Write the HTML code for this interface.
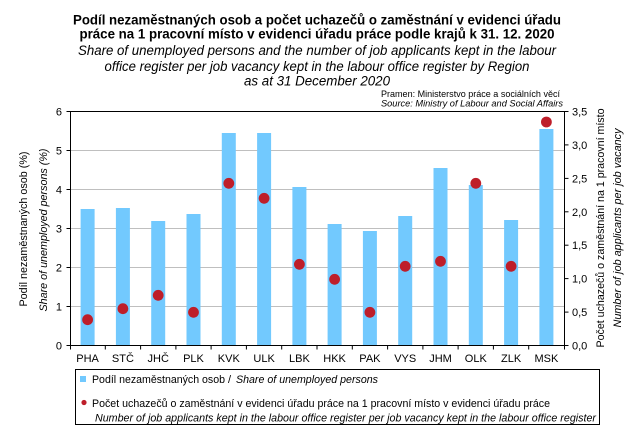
<!DOCTYPE html>
<html>
<head>
<meta charset="utf-8">
<style>
html,body{margin:0;padding:0;background:#fff;}
svg{display:block;}
text{font-family:"Liberation Sans",Arial,sans-serif;fill:#000;}
</style>
</head>
<body>
<svg width="643" height="428" viewBox="0 0 643 428" xmlns="http://www.w3.org/2000/svg">
<rect width="643" height="428" fill="#fff"/>

<!-- Title -->
<text x="317" y="24.5" font-size="13.5" font-weight="bold" text-anchor="middle" textLength="488" lengthAdjust="spacingAndGlyphs">Podíl nezaměstnaných osob  a počet uchazečů o zaměstnání v evidenci úřadu</text>
<text x="317" y="38.5" font-size="13.5" font-weight="bold" text-anchor="middle" textLength="475" lengthAdjust="spacingAndGlyphs">práce na 1 pracovní místo v evidenci úřadu práce podle krajů k 31. 12. 2020</text>
<text x="317" y="55" font-size="13.5" font-style="italic" text-anchor="middle" textLength="478" lengthAdjust="spacingAndGlyphs">Share of unemployed  persons  and the number of job applicants  kept in the labour</text>
<text x="317" y="71" font-size="13.5" font-style="italic" text-anchor="middle" textLength="425" lengthAdjust="spacingAndGlyphs">office register per job vacancy  kept in the labour office register  by Region</text>
<text x="317" y="85.5" font-size="13.5" font-style="italic" text-anchor="middle" textLength="146" lengthAdjust="spacingAndGlyphs">as at 31 December 2020</text>

<!-- Source -->
<text x="381" y="97" font-size="9.5" textLength="179" lengthAdjust="spacingAndGlyphs">Pramen: Ministerstvo práce a sociálních věcí</text>
<text x="381" y="106.5" font-size="9.5" font-style="italic" textLength="182" lengthAdjust="spacingAndGlyphs">Source: Ministry of Labour and Social Affairs</text>

<!-- Gridlines -->
<g stroke="#bfbfbf" stroke-width="1">
<line x1="70" y1="150.5" x2="564" y2="150.5"/>
<line x1="70" y1="189.5" x2="564" y2="189.5"/>
<line x1="70" y1="228.5" x2="564" y2="228.5"/>
<line x1="70" y1="267.5" x2="564" y2="267.5"/>
<line x1="70" y1="306.5" x2="564" y2="306.5"/>
</g>

<!-- Bars -->
<g fill="#72c9fe">
<rect x="80.6" y="209" width="14" height="136"/>
<rect x="115.9" y="208" width="14" height="137"/>
<rect x="151.2" y="221" width="14" height="124"/>
<rect x="186.5" y="214" width="14" height="131"/>
<rect x="221.8" y="133" width="14" height="212"/>
<rect x="257.1" y="133" width="14" height="212"/>
<rect x="292.4" y="187" width="14" height="158"/>
<rect x="327.6" y="224" width="14" height="121"/>
<rect x="362.9" y="231" width="14" height="114"/>
<rect x="398.2" y="216" width="14" height="129"/>
<rect x="433.5" y="168" width="14" height="177"/>
<rect x="468.8" y="185" width="14" height="160"/>
<rect x="504.1" y="220" width="14" height="125"/>
<rect x="539.4" y="129" width="14" height="216"/>
</g>

<!-- Dots -->
<g fill="#be1e2a">
<circle cx="87.6" cy="319.7" r="5.4"/>
<circle cx="122.9" cy="308.7" r="5.4"/>
<circle cx="158.2" cy="295.3" r="5.4"/>
<circle cx="193.5" cy="312.3" r="5.4"/>
<circle cx="228.8" cy="183.3" r="5.4"/>
<circle cx="264.1" cy="198.3" r="5.4"/>
<circle cx="299.4" cy="264.3" r="5.4"/>
<circle cx="334.6" cy="279.3" r="5.4"/>
<circle cx="369.9" cy="312.3" r="5.4"/>
<circle cx="405.2" cy="266.3" r="5.4"/>
<circle cx="440.5" cy="261.3" r="5.4"/>
<circle cx="475.8" cy="183.3" r="5.4"/>
<circle cx="511.1" cy="266.3" r="5.4"/>
<circle cx="546.4" cy="122" r="5.4"/>
</g>

<!-- Plot frame -->
<rect x="70.5" y="111.5" width="494" height="234" fill="none" stroke="#000" stroke-width="1"/>

<!-- Left ticks -->
<g stroke="#000" stroke-width="1">
<line x1="66.5" y1="111.5" x2="70.5" y2="111.5"/>
<line x1="66.5" y1="150.5" x2="70.5" y2="150.5"/>
<line x1="66.5" y1="189.5" x2="70.5" y2="189.5"/>
<line x1="66.5" y1="228.5" x2="70.5" y2="228.5"/>
<line x1="66.5" y1="267.5" x2="70.5" y2="267.5"/>
<line x1="66.5" y1="306.5" x2="70.5" y2="306.5"/>
<line x1="66.5" y1="345.5" x2="70.5" y2="345.5"/>
<!-- right ticks -->
<line x1="564.5" y1="111.5" x2="568.5" y2="111.5"/>
<line x1="564.5" y1="144.9" x2="568.5" y2="144.9"/>
<line x1="564.5" y1="178.4" x2="568.5" y2="178.4"/>
<line x1="564.5" y1="211.8" x2="568.5" y2="211.8"/>
<line x1="564.5" y1="245.2" x2="568.5" y2="245.2"/>
<line x1="564.5" y1="278.6" x2="568.5" y2="278.6"/>
<line x1="564.5" y1="312.1" x2="568.5" y2="312.1"/>
<line x1="564.5" y1="345.5" x2="568.5" y2="345.5"/>
<!-- bottom ticks -->
<line x1="70.5" y1="345.5" x2="70.5" y2="349.5"/>
<line x1="105.3" y1="345.5" x2="105.3" y2="349.5"/>
<line x1="140.6" y1="345.5" x2="140.6" y2="349.5"/>
<line x1="175.9" y1="345.5" x2="175.9" y2="349.5"/>
<line x1="211.1" y1="345.5" x2="211.1" y2="349.5"/>
<line x1="246.4" y1="345.5" x2="246.4" y2="349.5"/>
<line x1="281.7" y1="345.5" x2="281.7" y2="349.5"/>
<line x1="317" y1="345.5" x2="317" y2="349.5"/>
<line x1="352.3" y1="345.5" x2="352.3" y2="349.5"/>
<line x1="387.6" y1="345.5" x2="387.6" y2="349.5"/>
<line x1="422.9" y1="345.5" x2="422.9" y2="349.5"/>
<line x1="458.1" y1="345.5" x2="458.1" y2="349.5"/>
<line x1="493.4" y1="345.5" x2="493.4" y2="349.5"/>
<line x1="528.7" y1="345.5" x2="528.7" y2="349.5"/>
<line x1="564.5" y1="345.5" x2="564.5" y2="349.5"/>
</g>

<!-- Left tick labels -->
<g font-size="11" text-anchor="end">
<text x="62" y="115.5">6</text>
<text x="62" y="154.5">5</text>
<text x="62" y="193.5">4</text>
<text x="62" y="232.5">3</text>
<text x="62" y="271.5">2</text>
<text x="62" y="310.5">1</text>
<text x="62" y="349.5">0</text>
</g>

<!-- Right tick labels -->
<g font-size="11" text-anchor="start">
<text x="572" y="115.5">3,5</text>
<text x="572" y="148.9">3,0</text>
<text x="572" y="182.4">2,5</text>
<text x="572" y="215.8">2,0</text>
<text x="572" y="249.2">1,5</text>
<text x="572" y="282.6">1,0</text>
<text x="572" y="316.1">0,5</text>
<text x="572" y="349.5">0,0</text>
</g>

<!-- X labels -->
<g font-size="11" text-anchor="middle">
<text x="87.6" y="362">PHA</text>
<text x="122.9" y="362">STČ</text>
<text x="158.2" y="362">JHČ</text>
<text x="193.5" y="362">PLK</text>
<text x="228.8" y="362">KVK</text>
<text x="264.1" y="362">ULK</text>
<text x="299.4" y="362">LBK</text>
<text x="334.6" y="362">HKK</text>
<text x="369.9" y="362">PAK</text>
<text x="405.2" y="362">VYS</text>
<text x="440.5" y="362">JHM</text>
<text x="475.8" y="362">OLK</text>
<text x="511.1" y="362">ZLK</text>
<text x="546.4" y="362">MSK</text>
</g>

<!-- Axis titles -->
<text transform="translate(27,229) rotate(-90)" font-size="11" text-anchor="middle" textLength="155" lengthAdjust="spacingAndGlyphs">Podíl nezaměstnaných osob (%)</text>
<text transform="translate(47,230) rotate(-90)" font-size="11" font-style="italic" text-anchor="middle" textLength="163" lengthAdjust="spacingAndGlyphs">Share of unemployed persons (%)</text>
<text transform="translate(604,228) rotate(-90)" font-size="11" text-anchor="middle" textLength="239" lengthAdjust="spacingAndGlyphs">Počet uchazečů o zaměstnání na 1 pracovní místo</text>
<text transform="translate(621,228) rotate(-90)" font-size="11" font-style="italic" text-anchor="middle" textLength="199" lengthAdjust="spacingAndGlyphs">Number of job applicants per job vacancy</text>

<!-- Legend -->
<rect x="75.5" y="369.5" width="524" height="55" fill="#fff" stroke="#000" stroke-width="1"/>
<rect x="80" y="376" width="6" height="6" fill="#72c9fe"/>
<text x="92" y="383" font-size="11" textLength="133" lengthAdjust="spacingAndGlyphs">Podíl nezaměstnaných osob</text>
<text x="228" y="383" font-size="11">/</text>
<text x="236" y="383" font-size="11" font-style="italic" textLength="142" lengthAdjust="spacingAndGlyphs">Share of unemployed persons</text>
<circle cx="84" cy="402.5" r="2.6" fill="#be1e2a"/>
<text x="92" y="407" font-size="11" textLength="458" lengthAdjust="spacingAndGlyphs">Počet uchazečů o zaměstnání v evidenci úřadu práce na 1 pracovní místo v evidenci úřadu práce</text>
<text x="95" y="421.5" font-size="11" font-style="italic" textLength="501" lengthAdjust="spacingAndGlyphs">Number of job applicants kept in the labour office register per job vacancy kept in the labour office register</text>
</svg>
</body>
</html>
